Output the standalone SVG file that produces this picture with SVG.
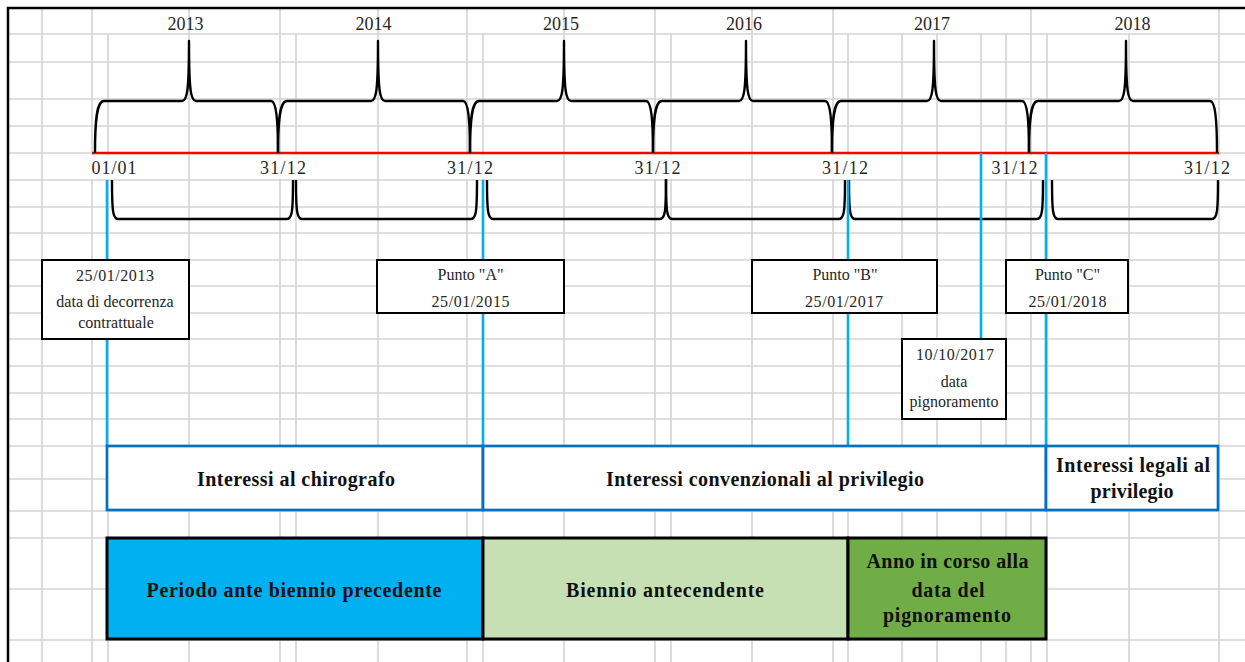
<svg xmlns="http://www.w3.org/2000/svg" width="1245" height="662" viewBox="0 0 1245 662">
<style>
.grid line{stroke:#d4d4d4;stroke-width:1.6}
.brace{fill:none;stroke:#000;stroke-width:2.4;stroke-linejoin:round}
.t{font-family:"Liberation Serif","Times New Roman",serif;fill:#262626;text-anchor:middle}
.yr{font-size:18px}
.bx{font-size:16px}
.b{font-family:"Liberation Serif","Times New Roman",serif;font-weight:bold;font-size:20px;fill:#111;text-anchor:middle}
.box{fill:#fff;stroke:#000;stroke-width:2}
.conn line{stroke:#00B0F0;stroke-width:2.6}
.irow{fill:#fff;stroke:#0070C0;stroke-width:2.7}
.prow{stroke:#000;stroke-width:3}
.lblbg{fill:#fff}
</style>
<rect x="0" y="0" width="1245" height="662" fill="#fff"/>
<g class="grid">
<line x1="8" y1="34" x2="1245" y2="34"/><line x1="8" y1="62" x2="1245" y2="62"/><line x1="8" y1="99" x2="1245" y2="99"/><line x1="8" y1="126" x2="1245" y2="126"/><line x1="8" y1="153" x2="1245" y2="153"/><line x1="8" y1="180" x2="1245" y2="180"/><line x1="8" y1="207" x2="1245" y2="207"/><line x1="8" y1="233" x2="1245" y2="233"/><line x1="8" y1="260" x2="1245" y2="260"/><line x1="8" y1="286" x2="1245" y2="286"/><line x1="8" y1="313" x2="1245" y2="313"/><line x1="8" y1="339" x2="1245" y2="339"/><line x1="8" y1="366" x2="1245" y2="366"/><line x1="8" y1="393" x2="1245" y2="393"/><line x1="8" y1="419" x2="1245" y2="419"/><line x1="8" y1="446" x2="1245" y2="446"/><line x1="8" y1="479" x2="1245" y2="479"/><line x1="8" y1="511" x2="1245" y2="511"/><line x1="8" y1="538" x2="1245" y2="538"/><line x1="8" y1="589" x2="1245" y2="589"/><line x1="8" y1="640" x2="1245" y2="640"/>
<line x1="42" y1="8" x2="42" y2="662"/><line x1="92" y1="8" x2="92" y2="662"/><line x1="189" y1="8" x2="189" y2="662"/><line x1="280" y1="8" x2="280" y2="662"/><line x1="378" y1="8" x2="378" y2="662"/><line x1="467" y1="8" x2="467" y2="662"/><line x1="564" y1="8" x2="564" y2="662"/><line x1="655" y1="8" x2="655" y2="662"/><line x1="752" y1="8" x2="752" y2="662"/><line x1="833" y1="8" x2="833" y2="662"/><line x1="1031" y1="8" x2="1031" y2="662"/><line x1="1219" y1="8" x2="1219" y2="662"/>
<line x1="108" y1="34" x2="108" y2="662"/><line x1="296" y1="34" x2="296" y2="662"/><line x1="483" y1="34" x2="483" y2="662"/><line x1="671" y1="34" x2="671" y2="662"/><line x1="848" y1="34" x2="848" y2="662"/><line x1="902" y1="34" x2="902" y2="662"/><line x1="937" y1="34" x2="937" y2="662"/><line x1="981" y1="34" x2="981" y2="662"/><line x1="1006" y1="34" x2="1006" y2="662"/><line x1="1047" y1="34" x2="1047" y2="662"/><line x1="1129" y1="34" x2="1129" y2="662"/>
</g>
<path d="M8,662 L8,8 L1245,8" fill="none" stroke="#000" stroke-width="2.5"/>
<g id="timeline">
<line x1="92" y1="153" x2="1219" y2="153" stroke="#FF0000" stroke-width="2.6"/>
<g id="years-braces">
<path class="brace" d="M95,153 C95,118 97,101 104,101 L182,101 C187,101 189,92 189,41 C189,92 191,101 196,101 L271,101 C276,101 278,118 278,153"/>
<path class="brace" d="M278,153 C278,118 280,101 287,101 L371,101 C376,101 378,92 378,41 C378,92 380,101 385,101 L463,101 C468,101 470,118 470,153"/>
<path class="brace" d="M470,153 C470,118 472,101 479,101 L557,101 C562,101 564,92 564,41 C564,92 566,101 571,101 L646,101 C651,101 653,118 653,153"/>
<path class="brace" d="M653,153 C653,118 655,101 662,101 L739,101 C744,101 746,92 746,41 C746,92 748,101 753,101 L825,101 C830,101 832,118 832,153"/>
<path class="brace" d="M832,153 C832,118 834,101 841,101 L927,101 C932,101 934,92 934,41 C934,92 936,101 941,101 L1022,101 C1027,101 1029,118 1029,153"/>
<path class="brace" d="M1029,153 C1029,118 1031,101 1038,101 L1119,101 C1124,101 1126,92 1126,41 C1126,92 1128,101 1133,101 L1210,101 C1215,101 1217,118 1217,153"/>
</g>
<g id="year-labels">
<text class="t yr" x="185.5" y="30">2013</text>
<text class="t yr" x="373.5" y="30">2014</text>
<text class="t yr" x="561" y="30">2015</text>
<text class="t yr" x="744" y="30">2016</text>
<text class="t yr" x="932" y="30">2017</text>
<text class="t yr" x="1132.5" y="30">2018</text>
</g>
<g id="brackets">
<path class="brace" d="M112,180 C112,212 113,219 118,219 L287,219 C292,219 293,212 293,180"/>
<path class="brace" d="M296,180 C296,212 297,219 302,219 L471,219 C476,219 477,212 477,180"/>
<path class="brace" d="M487,180 C487,212 488,219 493,219 L660,219 C665,219 666,212 666,178"/>
<path class="brace" d="M666,178 C666,212 667,219 672,219 L839,219 C844,219 845,212 845,180"/>
<path class="brace" d="M849,180 C849,212 850,219 855,219 L1037,219 C1042,219 1043,212 1043,180"/>
<path class="brace" d="M1052,180 C1052,212 1053,219 1058,219 L1212,219 C1217,219 1218,212 1218,180"/>
</g>
<g id="date-labels">
<rect class="lblbg" x="90" y="155" width="50" height="24"/>
<rect class="lblbg" x="257" y="155" width="52" height="24"/>
<rect class="lblbg" x="444" y="155" width="52" height="24"/>
<rect class="lblbg" x="631" y="155" width="52" height="24"/>
<rect class="lblbg" x="819" y="155" width="52" height="24"/>
<rect class="lblbg" x="988" y="155" width="52" height="24"/>
<rect class="lblbg" x="1181" y="155" width="52" height="24"/>
<text class="t yr" x="114" y="174" textLength="45" lengthAdjust="spacing">01/01</text>
<text class="t yr" x="283" y="174" textLength="46" lengthAdjust="spacing">31/12</text>
<text class="t yr" x="470" y="174" textLength="46" lengthAdjust="spacing">31/12</text>
<text class="t yr" x="657.5" y="174" textLength="46" lengthAdjust="spacing">31/12</text>
<text class="t yr" x="845" y="174" textLength="46" lengthAdjust="spacing">31/12</text>
<text class="t yr" x="1014.5" y="174" textLength="46" lengthAdjust="spacing">31/12</text>
<text class="t yr" x="1207" y="174" textLength="46" lengthAdjust="spacing">31/12</text>
</g>
</g>
<g id="connectors" class="conn">
<line x1="107" y1="180" x2="107" y2="446"/>
<line x1="483" y1="180" x2="483" y2="446"/>
<line x1="848" y1="180" x2="848" y2="446"/>
<line x1="981" y1="153" x2="981" y2="339"/>
<line x1="1046" y1="153" x2="1046" y2="446"/>
</g>
<g id="node-decorrenza">
<rect class="box" x="42" y="260" width="147" height="79"/>
<text class="t bx" x="115" y="281" textLength="78" lengthAdjust="spacing">25/01/2013</text>
<text class="t bx" x="115" y="307">data di decorrenza</text>
<text class="t bx" x="116" y="328">contrattuale</text>
</g>
<g id="node-puntoA">
<rect class="box" x="377" y="260" width="187" height="53"/>
<text class="t bx" x="470.5" y="280">Punto "A"</text>
<text class="t bx" x="470.5" y="307" textLength="78" lengthAdjust="spacing">25/01/2015</text>
</g>
<g id="node-puntoB">
<rect class="box" x="752" y="260" width="185" height="53"/>
<text class="t bx" x="845" y="280">Punto "B"</text>
<text class="t bx" x="844" y="307" textLength="78" lengthAdjust="spacing">25/01/2017</text>
</g>
<g id="node-puntoC">
<rect class="box" x="1006" y="260" width="122" height="53"/>
<text class="t bx" x="1067.5" y="280">Punto "C"</text>
<text class="t bx" x="1067.5" y="307" textLength="78" lengthAdjust="spacing">25/01/2018</text>
</g>
<g id="node-pignoramento">
<rect class="box" x="902" y="339" width="104" height="80"/>
<text class="t bx" x="955" y="360" textLength="78" lengthAdjust="spacing">10/10/2017</text>
<text class="t bx" x="954" y="387">data</text>
<text class="t bx" x="954" y="407">pignoramento</text>
</g>
<g id="node-interessi-chirografo">
<rect class="irow" x="107" y="446" width="376" height="64"/>
<text class="b" x="296" y="486" textLength="198" lengthAdjust="spacing">Interessi al chirografo</text>
</g>
<g id="node-interessi-convenzionali">
<rect class="irow" x="483" y="446" width="563" height="64"/>
<text class="b" x="765" y="486" textLength="318" lengthAdjust="spacing">Interessi convenzionali al privilegio</text>
</g>
<g id="node-interessi-legali">
<rect class="irow" x="1046" y="446" width="172" height="64"/>
<text class="b" x="1133" y="472" textLength="154" lengthAdjust="spacing">Interessi legali al</text>
<text class="b" x="1132" y="498" textLength="83" lengthAdjust="spacing">privilegio</text>
</g>
<g id="node-periodo-ante">
<rect class="prow" x="107" y="538" width="376" height="101" fill="#00B0F0"/>
<text class="b" x="294" y="597" textLength="295" lengthAdjust="spacing">Periodo ante biennio precedente</text>
</g>
<g id="node-biennio">
<rect class="prow" x="483" y="538" width="365" height="101" fill="#C6E0B4"/>
<text class="b" x="665" y="597" textLength="198" lengthAdjust="spacing">Biennio antecendente</text>
</g>
<g id="node-anno-in-corso">
<rect class="prow" x="848" y="538" width="198" height="101" fill="#70AD47"/>
<text class="b" x="947.5" y="568" textLength="162" lengthAdjust="spacing">Anno in corso alla</text>
<text class="b" x="948" y="597" textLength="73" lengthAdjust="spacing">data del</text>
<text class="b" x="947" y="622" textLength="128" lengthAdjust="spacing">pignoramento</text>
</g>
</svg>
